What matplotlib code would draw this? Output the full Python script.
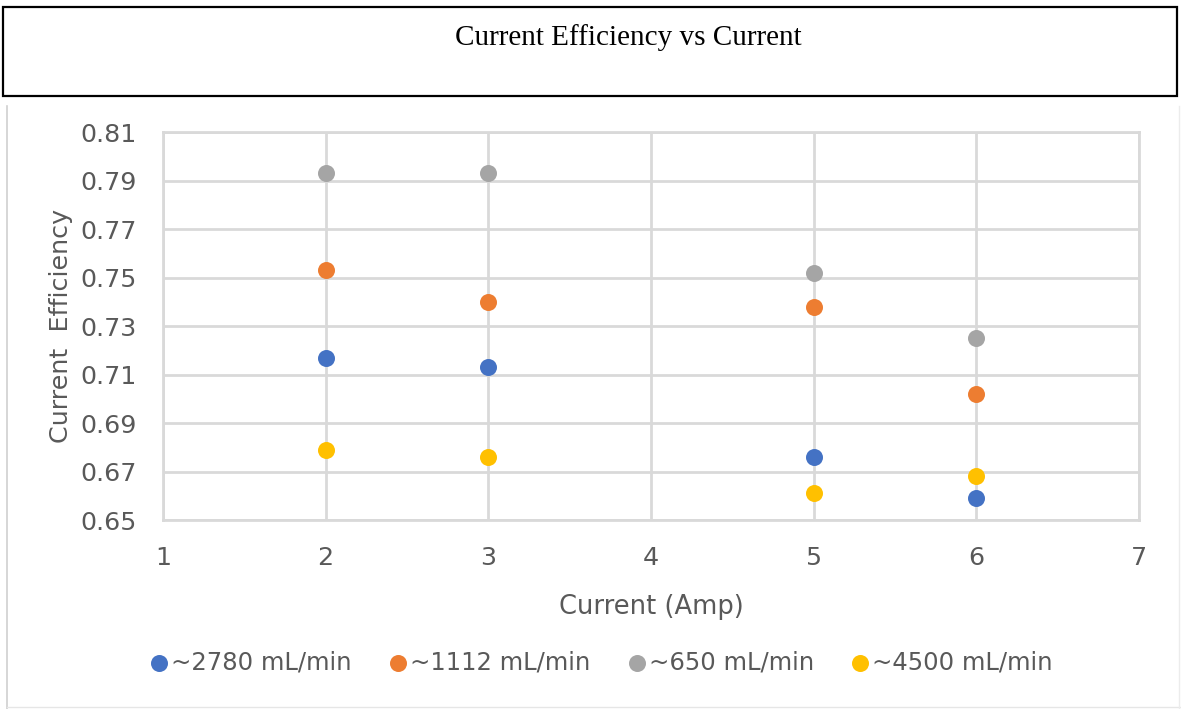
import matplotlib.pyplot as plt
from matplotlib.patches import Rectangle
from matplotlib.lines import Line2D

# current (A) for every point
current = [2, 3, 5, 6]
# current efficiency per flow rate
eff_2780 = [0.717, 0.713, 0.676, 0.659]
eff_1112 = [0.753, 0.740, 0.738, 0.702]
eff_650 = [0.793, 0.793, 0.752, 0.725]
eff_4500 = [0.679, 0.676, 0.661, 0.668]

series_names = ['~2780 mL/min', '~1112 mL/min', '~650 mL/min', '~4500 mL/min']
series_vals = [eff_2780, eff_1112, eff_650, eff_4500]
colors = ['#4472C4', '#ED7D31', '#A5A5A5', '#FFC000']

yticks = [0.65, 0.67, 0.69, 0.71, 0.73, 0.75, 0.77, 0.79, 0.81]
xticks = [1, 2, 3, 4, 5, 6, 7]

W, H = 1181, 709
fig = plt.figure(figsize=(W / 100, H / 100), dpi=100)
font = 'DejaVu Sans'
txtc = '#595959'

# title box on top
fig.patches.append(Rectangle((3 / W, 1 - 96 / H), 1174 / W, 89 / H,
                             transform=fig.transFigure, fill=False,
                             edgecolor='black', linewidth=1.6))
fig.text(628 / W, 1 - 38 / H, 'Current Efficiency vs Current',
         family='Liberation Serif', fontsize=21, ha='center', va='center')

# edges of the pasted chart image
fig.add_artist(Line2D([7 / W, 7 / W], [0, 1 - 106 / H], transform=fig.transFigure,
                      color='#d0d0d0', linewidth=1.2))
fig.add_artist(Line2D([7 / W, 1], [1 - 707 / H, 1 - 707 / H], transform=fig.transFigure,
                      color='#e6e6e6', linewidth=1))
fig.add_artist(Line2D([1179 / W, 1179 / W], [0, 1 - 106 / H], transform=fig.transFigure,
                      color='#ececec', linewidth=1))

ax = fig.add_axes([163 / W, 1 - 520 / H, 976 / W, 388 / H])
for name, vals, c in zip(series_names, series_vals, colors):
    ax.scatter(current, vals, s=150, color=c, label=name, zorder=3, linewidths=0)

ax.set_xlim(1, 7)
ax.set_ylim(0.65, 0.81)
ax.set_xticks(xticks)
ax.set_yticks(yticks)
ax.set_yticklabels(['%.2f' % v for v in yticks])
ax.grid(True, color='#d9d9d9', linewidth=2)
ax.set_axisbelow(True)
for s in ax.spines.values():
    s.set_color('#d9d9d9')
    s.set_linewidth(2)
ax.tick_params(axis='y', length=0, labelsize=18.3, labelcolor=txtc, pad=19)
ax.tick_params(axis='x', length=0, labelsize=18.3, labelcolor=txtc, pad=19)
for lab in ax.get_xticklabels() + ax.get_yticklabels():
    lab.set_family(font)

ax.set_xlabel('Current (Amp)', fontsize=18.5, color=txtc, family=font, labelpad=17)
ax.set_ylabel('Current  Efficiency', fontsize=18.3, color=txtc, family=font, labelpad=5)

fig.legend(loc='center', bbox_to_anchor=(600 / W, 1 - 662 / H), ncol=4, frameon=False,
           prop={'family': font, 'size': 17.5}, labelcolor=txtc,
           handlelength=1.0, handletextpad=0.0, columnspacing=1.4, markerscale=1.0)

fig.savefig('out.png', dpi=100)
